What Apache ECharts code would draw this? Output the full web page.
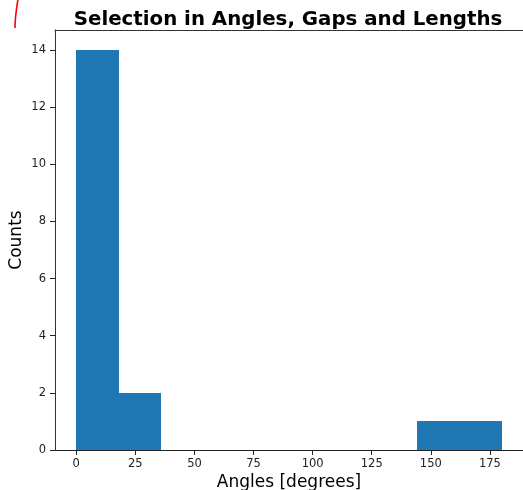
<!DOCTYPE html>
<html>
<head>
<meta charset="utf-8">
<style>
  html, body { margin: 0; padding: 0; background: #fff; }
  #chart { width: 523px; height: 490px; }
</style>
<script src="https://cdn.jsdelivr.net/npm/echarts@6/dist/echarts.min.js"></script>
</head>
<body>
<div id="chart"></div>
<script>
// Histogram of angles: 10 equal bins from 0 to 180 degrees
const binEdges = [0, 18, 36, 54, 72, 90, 108, 126, 144, 162, 180];
const counts = [14, 2, 0, 0, 0, 0, 0, 0, 1, 1];
const xTicks = [0, 25, 50, 75, 100, 125, 150, 175];
const yTicks = [0, 2, 4, 6, 8, 10, 12, 14];

const bins = counts.map((c, i) => [binEdges[i], binEdges[i + 1], c]);

const font = 'DejaVu Sans';
const chart = echarts.init(document.getElementById('chart'), null, { renderer: 'canvas' });

chart.setOption({
  animation: false,
  backgroundColor: '#ffffff',
  grid: {
    left: 55, top: 30, right: 0, bottom: 40,
    outerBoundsMode: 'none', containLabel: false, show: false
  },
  title: {
    text: 'Selection in Angles, Gaps and Lengths',
    left: 283, top: 5, textAlign: 'center',
    textStyle: { fontFamily: font, fontWeight: 'bold', fontSize: 19.8, color: '#000' }
  },
  xAxis: [{
    type: 'value', min: -9, max: 189,
    name: 'Angles [degrees]', nameLocation: 'middle', nameGap: 24, nameMoveOverlap: false,
    nameTextStyle: { fontFamily: font, fontSize: 17, color: '#000' },
    axisLine: { show: true, onZero: false, lineStyle: { color: '#222', width: 1 } },
    axisTick: { show: true, length: 5, customValues: xTicks, lineStyle: { color: '#222' } },
    axisLabel: { customValues: xTicks, fontFamily: font, fontSize: 11.5, color: '#222', margin: 8 },
    splitLine: { show: false }
  }, {
    // top frame line
    type: 'value', position: 'top', min: -9, max: 189,
    axisLine: { show: true, onZero: false, lineStyle: { color: '#333', width: 1 } },
    axisTick: { show: false }, axisLabel: { show: false }, splitLine: { show: false }
  }],
  yAxis: {
    type: 'value', min: 0, max: 14.7,
    name: 'Counts', nameLocation: 'middle', nameGap: 30, nameRotate: 90, nameMoveOverlap: false,
    nameTextStyle: { fontFamily: font, fontSize: 17, color: '#000' },
    axisLine: { show: true, onZero: false, lineStyle: { color: '#333', width: 1 } },
    axisTick: { show: true, length: 5, customValues: yTicks, lineStyle: { color: '#222' } },
    axisLabel: { customValues: yTicks, fontFamily: font, fontSize: 11.5, color: '#222', margin: 9 },
    splitLine: { show: false }
  },
  series: [{
    type: 'custom',
    xAxisIndex: 0,
    data: bins,
    encode: { x: [0, 1], y: 2 },
    renderItem: function (params, api) {
      const x0 = api.value(0), x1 = api.value(1), h = api.value(2);
      if (!h) return null;
      const p0 = api.coord([x0, h]);
      const p1 = api.coord([x1, 0]);
      // snap edges to whole pixels so neighbouring bins meet without a seam
      const left = Math.round(p0[0]), right = Math.round(p1[0]);
      const top = Math.round(p0[1]), bottom = Math.round(p1[1]);
      return {
        type: 'rect',
        shape: { x: left, y: top, width: right - left, height: bottom - top },
        style: { fill: '#1f77b4' }
      };
    }
  }],
  graphic: [{
    type: 'bezierCurve',
    shape: { x1: 18, y1: -1, cpx1: 16.5, cpy1: 8, cpx2: 15, cpy2: 18, x2: 15, y2: 28 },
    style: { stroke: '#ff0000', lineWidth: 1.6, fill: null }
  }]
});
</script>
</body>
</html>
